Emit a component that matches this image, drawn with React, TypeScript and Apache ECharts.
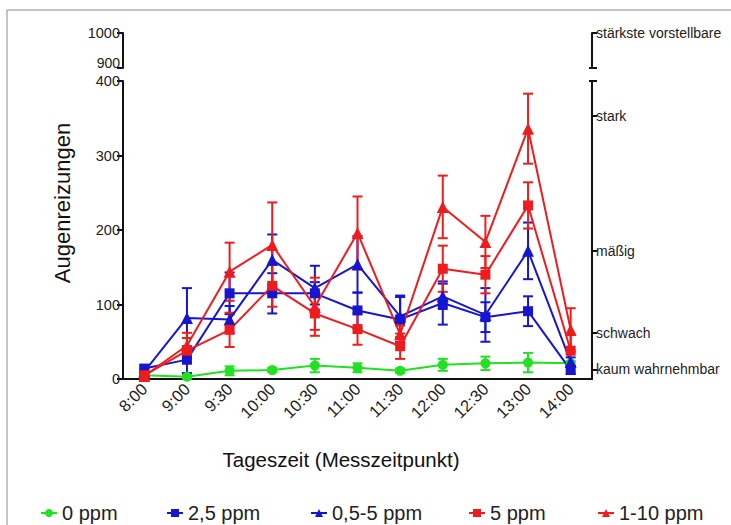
import React, { useEffect, useRef } from "react";
import * as echarts from "echarts";

// Messzeitpunkte
const categories = ["8:00", "9:00", "9:30", "10:00", "10:30", "11:00", "11:30", "12:00", "12:30", "13:00", "14:00"];

// Mittelwerte und Fehler je Gruppe
const ppm0 = [5, 3, 11, 12, 18, 15, 11, 19, 21, 22, 21];
const ppm0Err = [2, 2, 6, 3, 9, 6, 3, 8, 9, 13, 3];

const ppm2_5 = [14, 26, 115, 115, 115, 92, 80, 102, 83, 91, 12];
const ppm2_5Err = [4, 18, 28, 27, 15, 24, 30, 29, 20, 20, 5];

const ppm05_5 = [10, 82, 80, 160, 122, 154, 84, 111, 86, 172, 23];
const ppm05_5Err = [4, 40, 18, 34, 30, 38, 28, 17, 36, 38, 6];

const ppm5 = [5, 38, 66, 125, 88, 67, 44, 148, 140, 233, 38];
const ppm5Err = [3, 17, 23, 28, 22, 21, 17, 31, 25, 31, 21];

const ppm1_10 = [4, 45, 144, 180, 97, 196, 60, 231, 184, 336, 66];
const ppm1_10Err = [3, 17, 39, 57, 39, 49, 12, 42, 35, 47, 29];

// Achsen
const levelValues = [13, 62, 172, 353];
const levelLabels = ["kaum wahrnehmbar", "schwach", "mäßig", "stark"];
const topLevelValue = 1000;
const topLevelLabel = "stärkste vorstellbare";

const GREEN = "#22e022";
const BLUE = "#1616d0";
const RED = "#ee1c1c";

const FONT = "'Liberation Sans', Arial, sans-serif";

const lineSeries = (name: string, data: number[], color: string, symbol: string, size: number) => ({
  name,
  type: "line",
  xAxisIndex: 1,
  yAxisIndex: 2,
  data,
  symbol,
  symbolSize: size,
  itemStyle: { color },
  lineStyle: { color, width: 2 },
  z: 5,
});

const errorSeries = (values: number[], errs: number[], color: string) => ({
  type: "custom",
  xAxisIndex: 1,
  yAxisIndex: 2,
  silent: true,
  z: 4,
  data: values.map((v, i) => [i, v, errs[i]]),
  encode: { x: 0, y: 1 },
  renderItem: (params: any, api: any) => {
    const i = api.value(0);
    const v = api.value(1);
    const e = api.value(2);
    const hi = api.coord([i, v + e]);
    const lo = api.coord([i, Math.max(0, v - e)]);
    const w = 5;
    const style = { stroke: color, lineWidth: 2 };
    return {
      type: "group",
      children: [
        { type: "line", shape: { x1: hi[0], y1: hi[1], x2: lo[0], y2: lo[1] }, style },
        { type: "line", shape: { x1: hi[0] - w, y1: hi[1], x2: hi[0] + w, y2: hi[1] }, style },
        { type: "line", shape: { x1: lo[0] - w, y1: lo[1], x2: lo[0] + w, y2: lo[1] }, style },
      ],
    };
  },
});

const legendAt = (name: string, left: number) => ({
  data: [name],
  left,
  top: 498,
  itemWidth: 16,
  itemHeight: 10,
  itemGap: 4,
  textStyle: { fontSize: 20, color: "#222", fontFamily: FONT },
});

const axisLine = { show: true, lineStyle: { color: "#111", width: 2 } };
const tickStyle = { color: "#111", width: 2 };

// kleine Endmarken (nach innen), ohne Linie und Beschriftung
const capAxis = (gridIndex: number, min: number, max: number, values: number[]) => ({
  type: "value",
  gridIndex,
  position: "right",
  min,
  max,
  axisLine: { show: false },
  axisTick: { show: true, inside: true, length: 3, customValues: values, lineStyle: tickStyle },
  axisLabel: { show: false },
  splitLine: { show: false },
});

const App = () => {
  const chartRef = useRef<HTMLDivElement>(null);

  useEffect(() => {
    document.body.style.margin = "0";
    if (!chartRef.current) return;
    const chart = echarts.init(chartRef.current, null, { renderer: "svg" });

    const option: any = {
      animation: false,
      backgroundColor: "#fff",
      textStyle: { fontFamily: FONT },
      grid: [
        { left: 123, right: 139, top: 33, height: 35 },
        { left: 123, right: 139, top: 81, height: 298 },
      ],
      xAxis: [
        { type: "category", gridIndex: 0, data: categories, show: false },
        {
          type: "category",
          gridIndex: 1,
          data: categories,
          axisLine,
          axisTick: { alignWithLabel: true, length: 5, lineStyle: tickStyle },
          axisLabel: { rotate: 45, fontSize: 16.5, color: "#222", margin: 7 },
          splitLine: { show: false },
        },
      ],
      yAxis: [
        {
          type: "value",
          gridIndex: 0,
          min: 900,
          max: 1000,
          interval: 100,
          axisLine,
          axisTick: { show: true, length: 6, lineStyle: tickStyle },
          axisLabel: {
            fontSize: 14.5,
            color: "#222",
            margin: 3,
            customValues: [1000],
            formatter: (v: number) => String(v),
          },
          splitLine: { show: false },
        },
        {
          type: "value",
          gridIndex: 0,
          position: "right",
          min: 900,
          max: 1000,
          axisLine,
          axisTick: { show: true, length: 5, customValues: [900, topLevelValue], lineStyle: tickStyle },
          axisLabel: {
            fontSize: 14,
            color: "#222",
            margin: 4,
            customValues: [topLevelValue],
            formatter: () => topLevelLabel,
          },
          splitLine: { show: false },
        },
        {
          type: "value",
          gridIndex: 1,
          min: 0,
          max: 400,
          interval: 100,
          axisLine,
          axisTick: { show: true, length: 6, lineStyle: tickStyle },
          axisLabel: { fontSize: 14.5, color: "#222", margin: 3 },
          splitLine: { show: false },
        },
        {
          type: "value",
          gridIndex: 1,
          position: "right",
          min: 0,
          max: 400,
          axisLine,
          axisTick: { show: true, length: 5, customValues: [...levelValues, 400], lineStyle: tickStyle },
          axisLabel: {
            fontSize: 14,
            color: "#222",
            margin: 4,
            customValues: levelValues,
            formatter: (v: number) => levelLabels[levelValues.indexOf(v)] ?? "",
          },
          splitLine: { show: false },
        },
        capAxis(0, 900, 1000, [900]),
        capAxis(1, 0, 400, [400]),
        {
          // Beschriftung 900, etwas über dem Teilstrich, damit sie 400 nicht berührt
          type: "value",
          gridIndex: 0,
          position: "left",
          min: 900,
          max: 1000,
          axisLine: { show: false },
          axisTick: { show: false },
          axisLabel: {
            fontSize: 14,
            lineHeight: 10,
            verticalAlign: "bottom",
            color: "#222",
            margin: 3,
            customValues: [900],
            formatter: (v: number) => String(v),
          },
          splitLine: { show: false },
        },
      ],
      legend: [
        legendAt("0 ppm", 35),
        legendAt("2,5 ppm", 161),
        legendAt("0,5-5 ppm", 305),
        legendAt("5 ppm", 463),
        legendAt("1-10 ppm", 592),
      ],
      graphic: [
        {
          type: "rect",
          shape: { x: 7, y: 10, width: 800, height: 600 },
          style: { fill: "none", stroke: "#8a8a8a", lineWidth: 1 },
          silent: true,
        },
        {
          type: "text",
          x: 62,
          y: 203,
          rotation: Math.PI / 2,
          style: {
            text: "Augenreizungen",
            fontSize: 22,
            fill: "#111",
            fontFamily: FONT,
            textAlign: "center",
            textVerticalAlign: "middle",
          },
        },
        {
          type: "text",
          x: 341,
          y: 459,
          style: {
            text: "Tageszeit (Messzeitpunkt)",
            fontSize: 20.5,
            fill: "#111",
            fontFamily: FONT,
            textAlign: "center",
            textVerticalAlign: "middle",
          },
        },
      ],
      series: [
        errorSeries(ppm0, ppm0Err, GREEN),
        lineSeries("0 ppm", ppm0, GREEN, "circle", 10),
        errorSeries(ppm2_5, ppm2_5Err, BLUE),
        lineSeries("2,5 ppm", ppm2_5, BLUE, "rect", 10),
        errorSeries(ppm05_5, ppm05_5Err, BLUE),
        lineSeries("0,5-5 ppm", ppm05_5, BLUE, "triangle", 12),
        errorSeries(ppm5, ppm5Err, RED),
        lineSeries("5 ppm", ppm5, RED, "rect", 10),
        errorSeries(ppm1_10, ppm1_10Err, RED),
        lineSeries("1-10 ppm", ppm1_10, RED, "triangle", 12),
      ],
    };

    chart.setOption(option);
    return () => {
      chart.dispose();
    };
  }, []);

  return <div ref={chartRef} style={{ width: 731, height: 525 }} />;
};

export default App;
